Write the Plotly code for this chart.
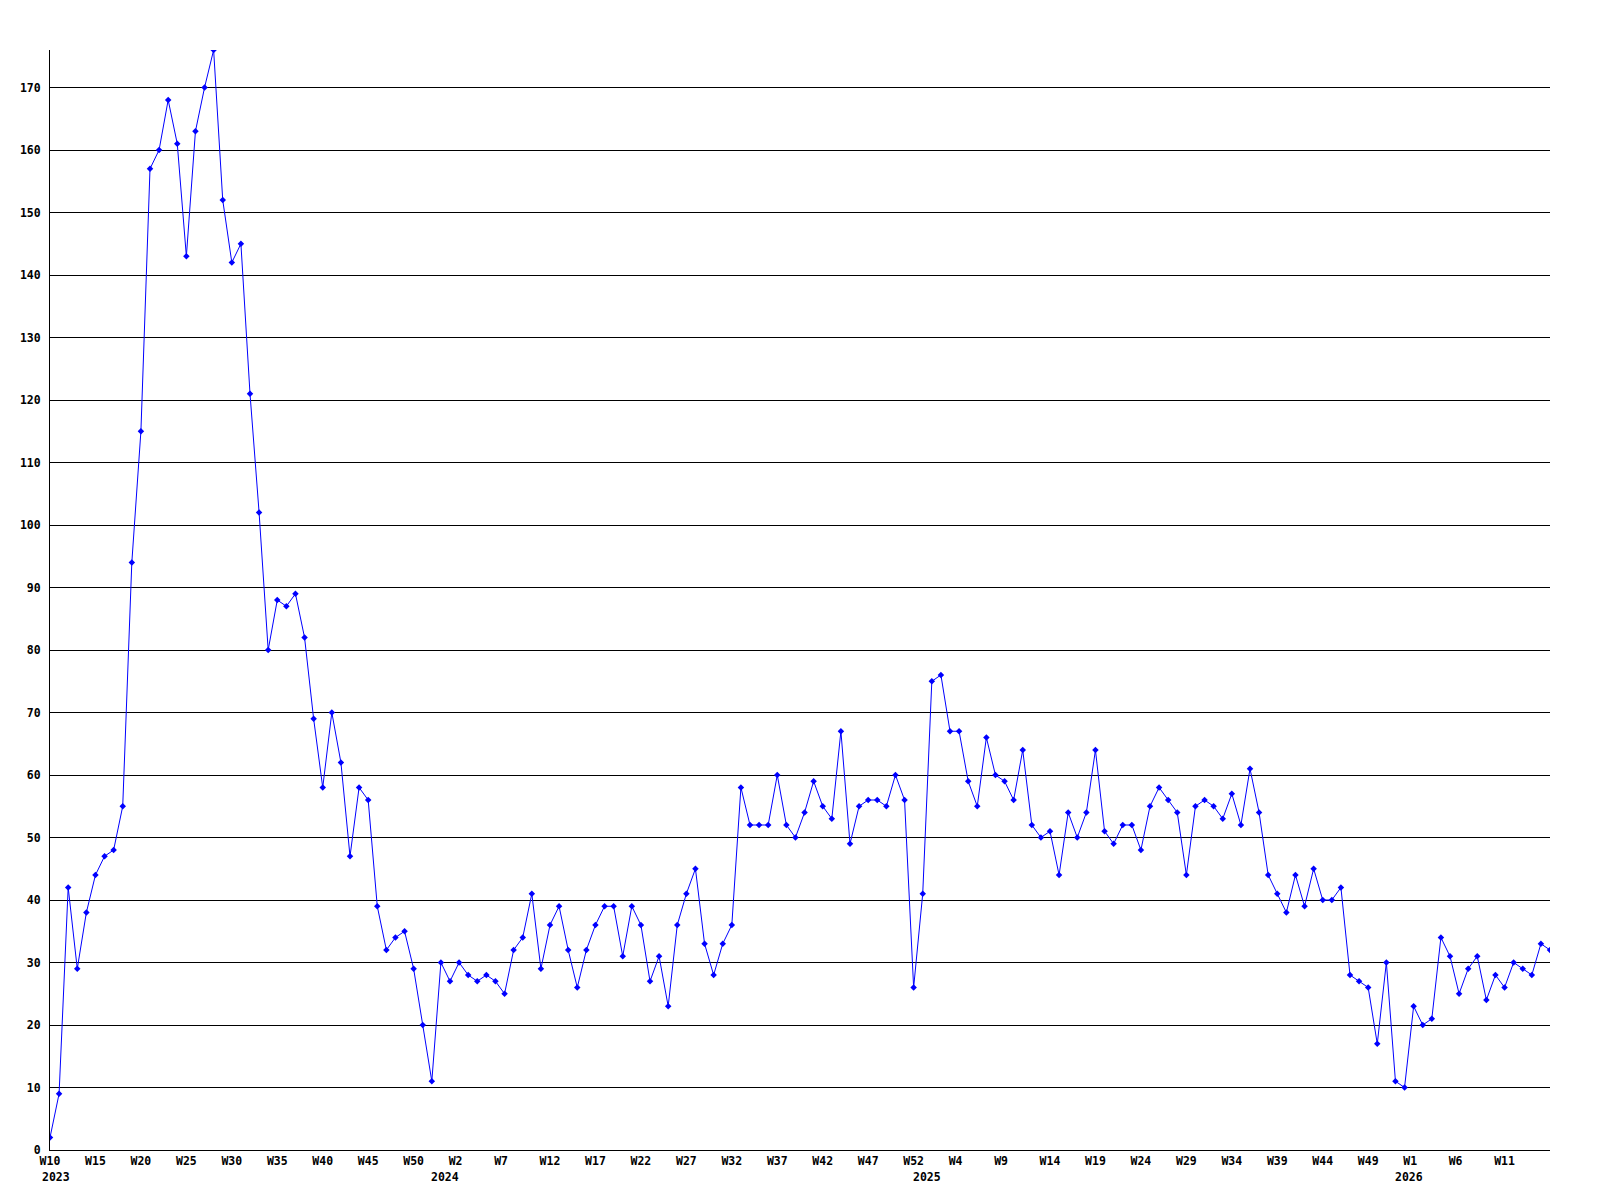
import plotly.graph_objects as go

# Week segments: (year, first week, last week)
SEGMENTS = [(2023, 10, 53), (2024, 1, 53), (2025, 1, 53), (2026, 1, 16)]
CATEGORIES = [f"{y}-W{w}" for (y, a, b) in SEGMENTS for w in range(a, b + 1)]

VALUES = [
    2, 9, 42, 29, 38, 44, 47, 48, 55, 94,
    115, 157, 160, 168, 161, 143, 163, 170, 176, 152,
    142, 145, 121, 102, 80, 88, 87, 89, 82, 69,
    58, 70, 62, 47, 58, 56, 39, 32, 34, 35,
    29, 20, 11, 30, 27, 30, 28, 27, 28, 27,
    25, 32, 34, 41, 29, 36, 39, 32, 26, 32,
    36, 39, 39, 31, 39, 36, 27, 31, 23, 36,
    41, 45, 33, 28, 33, 36, 58, 52, 52, 52,
    60, 52, 50, 54, 59, 55, 53, 67, 49, 55,
    56, 56, 55, 60, 56, 26, 41, 75, 76, 67,
    67, 59, 55, 66, 60, 59, 56, 64, 52, 50,
    51, 44, 54, 50, 54, 64, 51, 49, 52, 52,
    48, 55, 58, 56, 54, 44, 55, 56, 55, 53,
    57, 52, 61, 54, 44, 41, 38, 44, 39, 45,
    40, 40, 42, 28, 27, 26, 17, 30, 11, 10,
    23, 20, 21, 34, 31, 25, 29, 31, 24, 28,
    26, 30, 29, 28, 33, 32,
]

TICK_TEXT = [
    "W10", "W15", "W20", "W25", "W30", "W35", "W40", "W45", "W50",
    "W2", "W7", "W12", "W17", "W22", "W27", "W32", "W37", "W42", "W47", "W52",
    "W4", "W9", "W14", "W19", "W24", "W29", "W34", "W39", "W44", "W49",
    "W1", "W6", "W11",
]
YEAR_LABELS = ["2023", "2024", "2025", "2026"]

TICK_VALS = CATEGORIES[::5][:len(TICK_TEXT)]
# pad short labels so they sit like the original fixed-width labels
TICK_SHOWN = [t if len(t) >= 3 else t + "\u00a0" for t in TICK_TEXT]

FONT = dict(family="DejaVu Sans Mono", size=11.5, color="black", weight="bold")

fig = go.Figure()
fig.add_trace(go.Scatter(
    x=CATEGORIES, y=VALUES, mode="lines+markers",
    line=dict(color="#0000FF", width=1),
    marker=dict(color="#0000FF", symbol="diamond", size=5),
    showlegend=False,
))

# year labels: first one under the first tick, others centred on the year boundary
year_first_idx = [CATEGORIES.index(f"{y}-W{a}") for (y, a, b) in SEGMENTS]
for k, (label, idx) in enumerate(zip(YEAR_LABELS, year_first_idx)):
    if k == 0:
        fig.add_annotation(x=idx, y=0, xref="x", yref="paper", text=label,
                           showarrow=False, xanchor="left", yanchor="middle",
                           xshift=-10, yshift=-27, font=FONT)
    else:
        fig.add_annotation(x=idx - 0.5, y=0, xref="x", yref="paper", text=label,
                           showarrow=False, xanchor="center", yanchor="middle",
                           yshift=-27, font=FONT)

fig.update_layout(
    width=1592, height=1192,
    margin=dict(l=42, r=50, t=42, b=50),
    paper_bgcolor="white", plot_bgcolor="white",
    font=FONT,
)
fig.update_xaxes(
    type="category", range=[0, len(CATEGORIES) - 1],
    tickmode="array", tickvals=TICK_VALS, ticktext=TICK_SHOWN,
    showgrid=False, showline=True, linecolor="black", linewidth=1,
    ticks="", tickfont=FONT, zeroline=False, automargin=False,
)
fig.update_yaxes(
    range=[0, 176], dtick=10, tick0=0,
    showgrid=True, gridcolor="black", gridwidth=1,
    showline=True, linecolor="black", linewidth=1,
    ticks="", ticklabelstandoff=6, tickfont=FONT, zeroline=False, automargin=False,
)

fig.write_html("out.html")
